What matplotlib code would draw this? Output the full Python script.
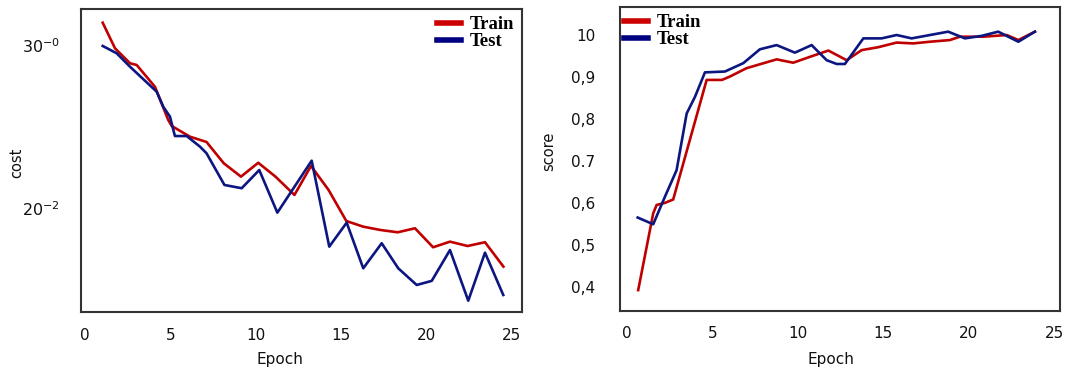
import matplotlib
matplotlib.use("Agg")
import matplotlib.pyplot as plt
from matplotlib.lines import Line2D

# ---------------- data ----------------
# Left panel: cost (log scale)
cost_train_epoch = [1.04, 1.76, 2.64, 3.03, 4.10, 4.88, 5.08, 6.15, 7.12, 8.13, 9.14,
                    10.15, 11.16, 12.27, 13.24, 14.27, 15.31, 16.30, 17.31, 18.32,
                    19.33, 20.39, 21.38, 22.41, 23.43, 24.51]
cost_train = [1.875, 0.912, 0.597, 0.569, 0.308, 0.1205, 0.1019, 0.0753, 0.0649, 0.0356,
              0.0244, 0.0361, 0.0244, 0.01456, 0.0330, 0.01675, 0.00698, 0.00595,
              0.00542, 0.00508, 0.00569, 0.00333, 0.00390, 0.00345, 0.00384, 0.00193]
cost_test_epoch = [1.04, 1.86, 2.64, 4.20, 4.59, 4.98, 5.27, 5.96, 6.74, 7.12, 8.17, 9.18,
                   10.21, 11.27, 13.28, 14.31, 15.33, 16.30, 17.38, 18.35, 19.43,
                   20.31, 21.38, 22.45, 23.43, 24.50]
cost_test = [0.973, 0.791, 0.542, 0.268, 0.175, 0.1325, 0.0767, 0.0767, 0.0568, 0.0472,
             0.0193, 0.0176, 0.0294, 0.00884, 0.0383, 0.00339, 0.00667, 0.00184,
             0.00373, 0.00184, 0.00115, 0.00129, 0.00308, 0.000738, 0.00286, 0.000867]
cost_ticks = [1.0, 0.01]
cost_tick_labels = [r"$30^{\mathregular{-0}}$", r"$20^{\mathregular{-2}}$"]

# Right panel: score
score_train_epoch = [0.64, 1.52, 1.72, 2.21, 2.69, 4.65, 5.55, 6.01, 6.99, 8.75, 9.72,
                     10.70, 11.78, 12.85, 13.73, 14.70, 15.78, 16.75, 17.73, 18.90,
                     19.49, 20.86, 22.23, 22.91, 23.88]
score_train = [0.392, 0.575, 0.595, 0.600, 0.608, 0.893, 0.893, 0.901, 0.921, 0.942,
               0.934, 0.948, 0.963, 0.940, 0.964, 0.971, 0.982, 0.980, 0.984, 0.988,
               0.996, 0.996, 1.000, 0.988, 1.008]
score_test_epoch = [0.61, 1.52, 2.21, 2.89, 3.48, 3.97, 4.55, 5.72, 6.80, 7.77, 8.75,
                    9.82, 10.80, 11.68, 12.27, 12.75, 13.83, 14.90, 15.78, 16.66,
                    17.73, 18.80, 19.78, 20.76, 21.73, 22.91, 23.88]
score_test = [0.565, 0.549, 0.615, 0.678, 0.813, 0.853, 0.911, 0.913, 0.933, 0.966,
              0.976, 0.958, 0.976, 0.940, 0.931, 0.931, 0.992, 0.992, 1.000, 0.992,
              1.000, 1.008, 0.992, 0.998, 1.008, 0.984, 1.008]
score_ticks = [1.0, 0.9, 0.8, 0.7, 0.6, 0.5, 0.4]
score_tick_labels = ["10", "0,9", "0,8", "0.7", "0,6", "0,5", "0,4"]

epoch_ticks = [0, 5, 10, 15, 20, 25]
series_names = ["Train", "Test"]

# ---------------- style ----------------
RED = "#c00000"
BLUE = "#0c1680"
SPINE = "#333333"
TXT = "#111111"

W, H = 1069, 371
fig = plt.figure(figsize=(W / 100, H / 100), dpi=100)

def px_axes(x0, y0, x1, y1):
    return fig.add_axes([x0 / W, 1 - y1 / H, (x1 - x0) / W, (y1 - y0) / H])

axL = px_axes(81, 8.6, 521.7, 312.3)
axR = px_axes(620.1, 6.7, 1060, 310.7)

for ax in (axL, axR):
    for s in ax.spines.values():
        s.set_color(SPINE)
        s.set_linewidth(1.5)
    ax.tick_params(length=0, labelsize=11, labelcolor=TXT)
    ax.set_xticks(epoch_ticks)
    ax.set_xticklabels([str(t) for t in epoch_ticks])
    ax.tick_params(axis="x", pad=11)

# Left panel
axL.plot(cost_train_epoch, cost_train, color=RED, lw=1.9)
axL.plot(cost_test_epoch, cost_test, color=BLUE, lw=1.9)
axL.set_yscale("log")
axL.set_xlim(-0.23, 25.58)
axL.set_ylim(0.000532, 2.79)
axL.yaxis.set_minor_locator(matplotlib.ticker.NullLocator())
axL.set_yticks(cost_ticks)
axL.set_yticklabels(cost_tick_labels, fontsize=11.5)
axL.tick_params(axis="y", pad=15)

# Right panel
axR.plot(score_train_epoch, score_train, color=RED, lw=1.9)
axR.plot(score_test_epoch, score_test, color=BLUE, lw=1.9)
axR.set_xlim(-0.42, 25.35)
axR.set_ylim(0.343, 1.0675)
axR.set_yticks(score_ticks)
axR.set_yticklabels(score_tick_labels)
axR.tick_params(axis="y", pad=18)

# Axis labels
fig.text(16.7 / W, 1 - 163 / H, "cost", rotation=90, ha="center", va="center",
         fontsize=10.5, color=TXT)
fig.text(549 / W, 1 - 151.7 / H, "score", rotation=90, ha="center", va="center",
         fontsize=10.5, color=TXT)
fig.text(280 / W, 1 - 359.5 / H, "Epoch", ha="center", va="center", fontsize=11, color=TXT)
fig.text(830.8 / W, 1 - 359.5 / H, "Epoch", ha="center", va="center", fontsize=11, color=TXT)

# Legends
handles = [Line2D([], [], color="#cc0000", lw=4), Line2D([], [], color="#000080", lw=4)]
leg_kw = dict(frameon=False, handlelength=1.3, handletextpad=0.45, labelspacing=0.0,
              prop={"family": "Liberation Serif", "weight": "bold", "size": 13.5},
              borderaxespad=0.0, borderpad=0.0)
axL.legend(handles, series_names, loc="upper right",
           bbox_to_anchor=(514 / W, 1 - 16 / H), bbox_transform=fig.transFigure, **leg_kw)
axR.legend(handles, series_names, loc="upper left",
           bbox_to_anchor=(624 / W, 1 - 14 / H), bbox_transform=fig.transFigure, **leg_kw)

fig.savefig("out.png", dpi=100)
